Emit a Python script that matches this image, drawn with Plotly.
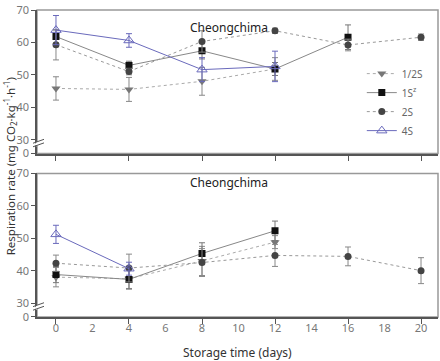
import plotly.graph_objects as go

# ---------------- data ----------------
days = [0, 4, 8, 12, 16, 20]

# top panel
half_top = [45.8, 45.5, 48.0, 51.8]
half_top_err = [3.6, 3.7, 4.3, 3.5]
one_top = [61.8, 52.9, 57.4, 51.8, 61.6]
one_top_err = [2.0, 1.3, 2.5, 2.0, 3.8]
two_top = [59.3, 51.0, 60.3, 63.6, 59.2, 61.6]
two_top_err = [4.7, 1.0, 3.3, 0.8, 1.8, 1.0]
four_top = [63.8, 60.6, 51.6, 52.6]
four_top_err = [4.5, 2.1, 3.7, 4.7]

# bottom panel
half_bot = [38.0, 37.5, 43.0, 48.8]
half_bot_err = [3.0, 3.0, 4.5, 2.0]
one_bot = [38.8, 37.3, 45.3, 52.3]
one_bot_err = [2.5, 3.0, 3.3, 3.0]
two_bot = [42.3, 40.8, 42.5, 44.7, 44.4, 40.0]
two_bot_err = [2.5, 4.3, 4.3, 3.4, 2.9, 4.0]
four_bot = [51.2, 40.6]
four_bot_err = [2.8, 2.0]

names = ["1/2S", "1S<sup>z</sup>", "2S", "4S"]
ytickvals = [25.7, 30, 40, 50, 60, 70]
yticktext = ["0", "30", "40", "50", "60", "70"]
xlabels = list(range(0, 21, 2))
xmajor = [0, 4, 8, 12, 16, 20]
panel_title = "Cheongchima"

FONT = "Noto Sans"
BLUE = "#6a6abc"

styles = [
    dict(marker=dict(symbol="triangle-down", size=8, color="#777777"),
         line=dict(color="#aaaaaa", width=1, dash="dot"), ecol="#888888"),
    dict(marker=dict(symbol="square", size=7, color="#111111"),
         line=dict(color="#888888", width=1), ecol="#777777"),
    dict(marker=dict(symbol="circle", size=7, color="#444444"),
         line=dict(color="#999999", width=1, dash="dot"), ecol="#888888"),
    dict(marker=dict(symbol="triangle-up-open", size=9, color=BLUE, line=dict(width=1, color=BLUE)),
         line=dict(color=BLUE, width=1), ecol=BLUE),
]

fig = go.Figure()

top_series = [(half_top, half_top_err), (one_top, one_top_err), (two_top, two_top_err), (four_top, four_top_err)]
bot_series = [(half_bot, half_bot_err), (one_bot, one_bot_err), (two_bot, two_bot_err), (four_bot, four_bot_err)]

for panel, series, xa, ya in [(0, top_series, "x", "y"), (1, bot_series, "x2", "y2")]:
    for i, (vals, errs) in enumerate(series):
        st = styles[i]
        fig.add_trace(go.Scatter(
            x=days[:len(vals)], y=vals, mode="lines+markers",
            name=names[i], showlegend=(panel == 0),
            marker=st["marker"], line=st["line"],
            error_y=dict(type="data", array=errs, visible=True, color=st["ecol"], thickness=1, width=3),
            xaxis=xa, yaxis=ya,
        ))

# invisible trace for the tick-only overlay axis
fig.add_trace(go.Scatter(x=[0], y=[50], mode="markers", marker=dict(opacity=0),
                         showlegend=False, hoverinfo="skip", xaxis="x3", yaxis="y2"))

xr = [-1.04, 20.93]
common_y = dict(range=[25.7, 70], tickvals=ytickvals, ticktext=yticktext, ticks="outside",
                ticklen=4, tickcolor="#555", showline=True, linecolor="#555", linewidth=1.5,
                showgrid=False, zeroline=False, tickfont=dict(family=FONT, size=11, color="#777"))

fig.update_layout(
    width=440, height=361,
    margin=dict(l=37, r=2, t=7, b=44),
    paper_bgcolor="white", plot_bgcolor="white",
    font=dict(family=FONT),
    xaxis=dict(domain=[0, 1], range=xr, anchor="y", tickvals=xmajor, showticklabels=False,
               ticks="outside", ticklen=6, tickcolor="#555", showline=True, linecolor="#555",
               linewidth=1.5, showgrid=False, zeroline=False),
    yaxis=dict(domain=[0.5323, 1], anchor="x", **common_y),
    xaxis2=dict(domain=[0, 1], range=xr, anchor="y2", tickvals=xlabels, ticks="",
                showline=True, linecolor="#555", linewidth=1.5, showgrid=False, zeroline=False,
                tickfont=dict(family=FONT, size=11, color="#777")),
    xaxis3=dict(overlaying="x2", anchor="y2", side="bottom", range=xr, tickvals=xmajor,
                showticklabels=False, ticks="outside", ticklen=6, tickcolor="#555",
                showline=False, showgrid=False, zeroline=False),
    yaxis2=dict(domain=[0, 0.4677], anchor="x2", **common_y),
    legend=dict(x=0.81, y=0.84, xanchor="left", yanchor="top", bgcolor="rgba(0,0,0,0)",
                font=dict(family=FONT, size=10, color="#666"), tracegroupgap=0, itemwidth=30),
)

# gray frames (top/right)
for xd, yd in [("x domain", "y domain"), ("x2 domain", "y2 domain")]:
    fig.add_shape(type="rect", xref=xd, yref=yd, x0=0, x1=1, y0=0, y1=1,
                  line=dict(color="#999", width=1.5), layer="below")

# axis break marks
px = 1 / 401
for ya in ["y", "y2"]:
    fig.add_shape(type="line", xref="paper", yref=ya, x0=-1.5 * px, x1=1.5 * px, y0=28.2, y1=29.2,
                  line=dict(color="white", width=3))
    for off in [0, 1.1]:
        fig.add_shape(type="line", xref="paper", yref=ya, x0=-4 * px, x1=7 * px,
                      y0=27.8 + off, y1=29.0 + off, line=dict(color="#555", width=1))

# panel titles
for yv in [0.977, 0.439]:
    fig.add_annotation(text=panel_title, xref="paper", yref="paper", x=0.48, y=yv,
                       showarrow=False, font=dict(family=FONT, size=12, color="#222"))

fig.add_annotation(text="Respiration rate (mg CO<sub>2</sub>·kg<sup>-1</sup>·h<sup>-1</sup>)",
                   xref="paper", yref="paper", x=-0.068, y=0.49, textangle=-90, showarrow=False,
                   xanchor="center", yanchor="middle",
                   font=dict(family=FONT, size=11.5, color="#333"))
fig.add_annotation(text="Storage time (days)", xref="paper", yref="paper", x=0.5, y=-0.115,
                   showarrow=False, xanchor="center", yanchor="middle",
                   font=dict(family=FONT, size=12, color="#333"))

fig.write_html("out.html")
